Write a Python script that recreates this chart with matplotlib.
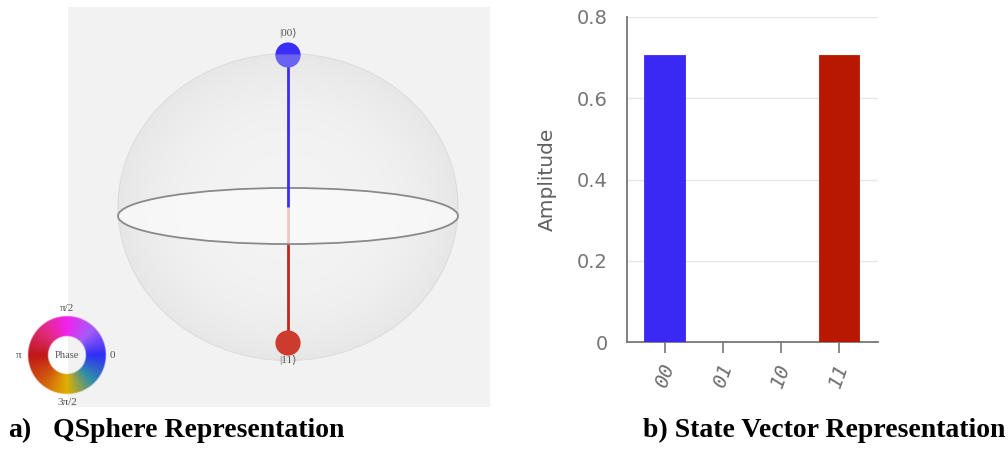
import numpy as np
import matplotlib
matplotlib.use('Agg')
import matplotlib.pyplot as plt
from matplotlib.patches import Ellipse, Wedge
from matplotlib.colors import LinearSegmentedColormap

# data: Bell state |00> + |11>
states = ['00', '01', '10', '11']
amplitudes = [0.7071, 0.0, 0.0, 0.7071]
state_colors = ['#3a28f5', '#3a28f5', '#3a28f5', '#b81800']
dot_colors = ['#3a2df5', '#3a2df5', '#3a2df5', '#cc3b2c']
line_colors = ['#3a2df5', '#3a2df5', '#3a2df5', '#c0281c']
yticks = [0, 0.2, 0.4, 0.6, 0.8]
ytick_labels = ['0', '0.2', '0.4', '0.6', '0.8']

# phase wheel colours (0 -> 2pi)
phase_stops = ['#2f2ff5', '#a45cf8', '#f222ee', '#e02a78', '#c01818',
               '#d05510', '#e0b000', '#2f8fa8', '#2f2ff5']
phase_cmap = LinearSegmentedColormap.from_list('phase', phase_stops)

W, H = 1008, 450
fig = plt.figure(figsize=(W / 100, H / 100), dpi=100)
fig.patch.set_facecolor('white')


def fig_rect(x0, y0, x1, y1):
    return [x0 / W, 1 - y1 / H, (x1 - x0) / W, (y1 - y0) / H]


# ---------------- a) QSphere ----------------
R = 170.0
cx, cy = 288, 207
ax1 = fig.add_axes(fig_rect(68, 7, 490, 407))
ax1.set_xlim((68 - cx) / R, (490 - cx) / R)
ax1.set_ylim((cy - 407) / R, (cy - 7) / R)
ax1.set_aspect('equal')
ax1.set_facecolor('#f2f2f2')
ax1.set_xticks([])
ax1.set_yticks([])
for s in ax1.spines.values():
    s.set_visible(False)

# sphere body with a soft radial shading
sph_h = 1.806
gx, gy = np.meshgrid(np.linspace(-1, 1, 300), np.linspace(-1, 1, 300))
rr = np.sqrt(gx ** 2 + gy ** 2)
shade = 0.955 - 0.05 * rr ** 3
img = ax1.imshow(np.dstack([shade] * 3), extent=(-1, 1, -sph_h / 2, sph_h / 2),
                 zorder=1, interpolation='bilinear')
body = Ellipse((0, 0), 2, sph_h, facecolor='none', edgecolor='#dddddd', lw=0.8, zorder=2)
ax1.add_patch(body)
img.set_clip_path(body)

n_qubits = 2
eq_y, eq_ry = -0.053, 0.165
serif = ['Liberation Serif', 'DejaVu Serif']


def project(weight):
    theta = np.pi * weight / n_qubits
    return 0.0, np.cos(theta) * 0.847 + 0.047


for st, amp, dc, lc in zip(states, amplitudes, dot_colors, line_colors):
    if amp == 0:
        continue
    px, py = project(st.count('1'))
    north = py > 0
    ax1.plot([0, px], [0, py], color=lc, lw=2.0, zorder=5 if north else 3,
             solid_capstyle='butt')
    r = 0.07
    if north:
        ax1.add_patch(Wedge((px, py), r, 0, 180, color=dc, zorder=6))
        ax1.add_patch(Wedge((px, py), r, 180, 360, color='#6a62f2', zorder=6))
        ax1.text(px, py + 0.1, '|' + st + '⟩', ha='center', va='bottom', fontsize=8,
                 color='#555555', family=serif, zorder=7)
    else:
        ax1.add_patch(Ellipse((px, py), 2 * r, 2 * r, color=dc, zorder=6))
        ax1.text(px, py - 0.07, '|' + st + '⟩', ha='center', va='top', fontsize=8,
                 color='#555555', family=serif, zorder=7)

# equator disc
ax1.add_patch(Ellipse((0, eq_y), 2, 2 * eq_ry, facecolor='#fbfbfb', alpha=0.75,
                      edgecolor='none', zorder=4))
ax1.add_patch(Ellipse((0, eq_y), 2, 2 * eq_ry, facecolor='none',
                      edgecolor='#8a8a8a', lw=1.3, zorder=4.5))

# phase wheel
axw = fig.add_axes(fig_rect(0, 295, 140, 415))
axw.set_xlim(-67, 73)
axw.set_ylim(-60, 60)
axw.set_aspect('equal')
axw.axis('off')
axw.patch.set_alpha(0)
wx, wy = np.meshgrid(np.linspace(-40, 40, 321), np.linspace(-40, 40, 321))
ang = np.mod(np.arctan2(wy, wx), 2 * np.pi) / (2 * np.pi)
rad = np.hypot(wx, wy)
rgba = phase_cmap(ang)
rgba[..., 3] = np.clip(np.minimum(39 - rad, rad - 19) + 0.5, 0, 1)
axw.imshow(rgba, extent=(-40, 40, -40, 40), origin='lower', interpolation='bilinear')
axw.text(0, 0, 'Phase', ha='center', va='center', fontsize=7.6, color='#555555', family=serif)
axw.text(0, 42, 'π/2', ha='center', va='bottom', fontsize=8, color='#555555', family=serif)
axw.text(0, -43, '3π/2', ha='center', va='top', fontsize=8, color='#555555', family=serif)
axw.text(43, 0, '0', ha='left', va='center', fontsize=8, color='#555555', family=serif)
axw.text(-45, 0, 'π', ha='right', va='center', fontsize=8, color='#555555', family=serif)

# ---------------- b) State vector ----------------
ax2 = fig.add_axes(fig_rect(627, 17, 878, 342))
x = np.arange(len(states))
ax2.bar(x, amplitudes, width=0.7, color=state_colors, edgecolor=state_colors,
        linewidth=0.6, zorder=3)
ax2.set_xlim(-0.65, 3.67)
ax2.set_ylim(0, 0.8)
ax2.set_yticks(yticks)
ax2.set_yticklabels(ytick_labels, family='DejaVu Sans', fontsize=14, color='#757575')
ax2.set_xticks(x)
ax2.set_xticklabels(states, family='DejaVu Sans Mono', style='italic', fontsize=14.5,
                    color='#707070', rotation=70, ha='center')
ax2.tick_params(axis='y', length=0, pad=14)
ax2.tick_params(axis='x', length=8, width=1.2, color='#777777', pad=6)
ax2.yaxis.grid(True, color='#e6e6e6', lw=1, zorder=0)
ax2.set_axisbelow(True)
for s in ['top', 'right']:
    ax2.spines[s].set_visible(False)
for s in ['left', 'bottom']:
    ax2.spines[s].set_color('#777777')
    ax2.spines[s].set_linewidth(1.3)
ax2.set_ylabel('Amplitude', family='DejaVu Sans', fontsize=14.5, color='#606060', labelpad=14)

# captions
cap = dict(family='Liberation Serif', weight='bold', fontsize=20, color='black',
           va='baseline')
fig.text(8 / W, 1 - 437 / H, 'a)', **cap)
fig.text(53 / W, 1 - 437 / H, 'QSphere Representation', **cap)
fig.text(643 / W, 1 - 437 / H, 'b) State Vector Representation', **cap)

fig.savefig('out.png', dpi=100, facecolor='white')
